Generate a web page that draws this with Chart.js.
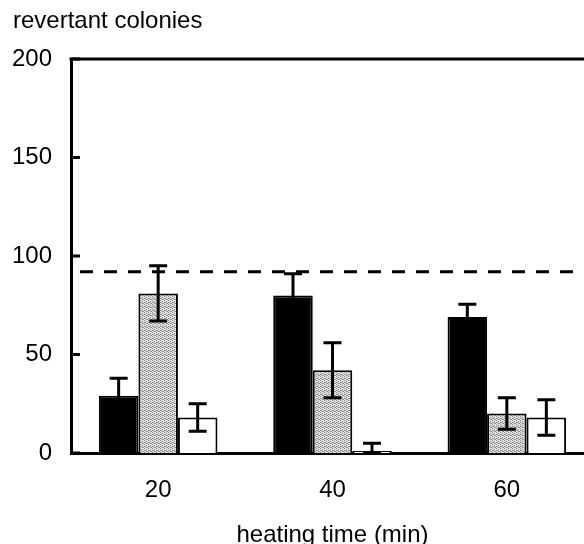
<!DOCTYPE html>
<html>
<head>
<meta charset="utf-8">
<script src="https://cdn.jsdelivr.net/npm/chart.js@4/dist/chart.umd.min.js"></script>
<style>
  html, body { margin: 0; padding: 0; overflow: hidden; background: #fff; }
  #wrap { width: 600px; height: 550px; }
</style>
</head>
<body>
<div id="wrap"><canvas id="c" width="600" height="550"></canvas></div>
<script>
// ---- data ----
const categories = ['20', '40', '60'];
const blackValues = [29, 80, 69];
const blackErrors = [9, 11, 6.5];
const grayValues  = [81, 42, 20];
const grayErrors  = [14, 14, 8];
const whiteValues = [18, 1, 18];
const whiteErrors = [7, 4, 9];
const referenceLevel = 92;
const yTicks = [0, 50, 100, 150, 200];
const yLabel = 'revertant colonies';
const xLabel = 'heating time (min)';

const FONT = "'Liberation Sans', Arial, sans-serif";

// stippled gray pattern
function makePattern() {
  const p = document.createElement('canvas');
  p.width = 4; p.height = 4;
  const g = p.getContext('2d');
  g.fillStyle = '#e0e0e0'; g.fillRect(0, 0, 4, 4);
  g.fillStyle = '#8e8e8e';
  g.fillRect(0, 0, 1, 1); g.fillRect(2, 1, 1, 1); g.fillRect(1, 2, 1, 1); g.fillRect(3, 3, 1, 1);
  g.fillRect(2, 3, 1, 1); g.fillRect(0, 2, 1, 1);
  return g.createPattern(p, 'repeat');
}
const grayPattern = makePattern();

const errorSets = [blackErrors, grayErrors, whiteErrors];

// frame, inner ticks and reference dashed line, drawn through the y scale
const framePlugin = {
  id: 'frame',
  beforeDatasetsDraw(chart) {
    const ctx = chart.ctx;
    const a = chart.chartArea;
    const yScale = chart.scales.y;
    ctx.save();
    ctx.strokeStyle = '#000';
    ctx.lineWidth = 3;
    const yr = yScale.getPixelForValue(referenceLevel);
    ctx.setLineDash([13, 11]);
    ctx.beginPath();
    ctx.moveTo(a.left + 9, yr); ctx.lineTo(a.right, yr);
    ctx.stroke();
    ctx.setLineDash([]);
    ctx.restore();
  },
  afterDatasetsDraw(chart) {
    const ctx = chart.ctx;
    const a = chart.chartArea;
    const yScale = chart.scales.y;
    ctx.save();
    ctx.strokeStyle = '#000';
    ctx.lineWidth = 3;
    ctx.beginPath();
    ctx.moveTo(a.left - 1.5, a.top); ctx.lineTo(a.right, a.top);
    ctx.stroke();
    ctx.beginPath();
    yTicks.forEach(v => {
      const y = yScale.getPixelForValue(v);
      ctx.moveTo(a.left, y); ctx.lineTo(a.left + 9, y);
    });
    ctx.stroke();
    for (let d = 0; d < 3; d++) {
      const meta = chart.getDatasetMeta(d);
      const vals = chart.data.datasets[d].data;
      meta.data.forEach((el, i) => {
        const v = vals[i], e = errorSets[d][i];
        const yt = yScale.getPixelForValue(v + e);
        const yb = yScale.getPixelForValue(Math.max(v - e, 0));
        const x = el.x, cap = 9;
        ctx.beginPath();
        ctx.moveTo(x, yt); ctx.lineTo(x, yb);
        ctx.moveTo(x - cap, yt); ctx.lineTo(x + cap, yt);
        ctx.moveTo(x - cap, yb); ctx.lineTo(x + cap, yb);
        ctx.stroke();
      });
    }
    ctx.restore();
  },
  afterDraw(chart) {
    const ctx = chart.ctx;
    ctx.save();
    ctx.font = '24px ' + FONT;
    ctx.fillStyle = '#000';
    ctx.textAlign = 'left';
    ctx.textBaseline = 'middle';
    ctx.fillText(yLabel, 13, 21);
    ctx.restore();
  }
};

new Chart(document.getElementById('c'), {
  type: 'bar',
  data: {
    labels: categories,
    datasets: [
      { label: 'A', data: blackValues, backgroundColor: '#000', borderColor: '#000', borderWidth: 2,
        categoryPercentage: 0.68, barPercentage: 1.0 },
      { label: 'B', data: grayValues, backgroundColor: grayPattern, borderColor: '#000', borderWidth: 2,
        categoryPercentage: 0.68, barPercentage: 1.0 },
      { label: 'C', data: whiteValues, backgroundColor: '#fff', borderColor: '#000', borderWidth: 2,
        categoryPercentage: 0.68, barPercentage: 1.0 }
    ]
  },
  options: {
    responsive: false,
    animation: false,
    devicePixelRatio: 1,
    layout: { padding: { left: 0, top: 59, right: 6, bottom: 0 } },
    plugins: { legend: { display: false }, tooltip: { enabled: false }, title: { display: false } },
    scales: {
      x: {
        type: 'category',
        position: 'bottom',
        offset: true,
        grid: { display: false, drawTicks: false },
        border: { display: true, color: '#000', width: 3 },
        ticks: { color: '#000', font: { family: FONT, size: 24 }, padding: 23 },
        title: { display: true, text: xLabel, color: '#000', font: { family: FONT, size: 24 }, padding: { top: 0, bottom: 0 } },
        afterFit(s) { s.height = 97; }
      },
      y: {
        type: 'linear',
        min: 0, max: 200,
        afterBuildTicks(s) { s.ticks = yTicks.map(v => ({ value: v })); },
        grid: { display: false, drawTicks: false },
        border: { display: true, color: '#000', width: 3 },
        ticks: { color: '#000', font: { family: FONT, size: 24 }, padding: 19 },
        afterFit(s) { s.width = 71; }
      }
    }
  },
  plugins: [framePlugin]
});
</script>
</body>
</html>
